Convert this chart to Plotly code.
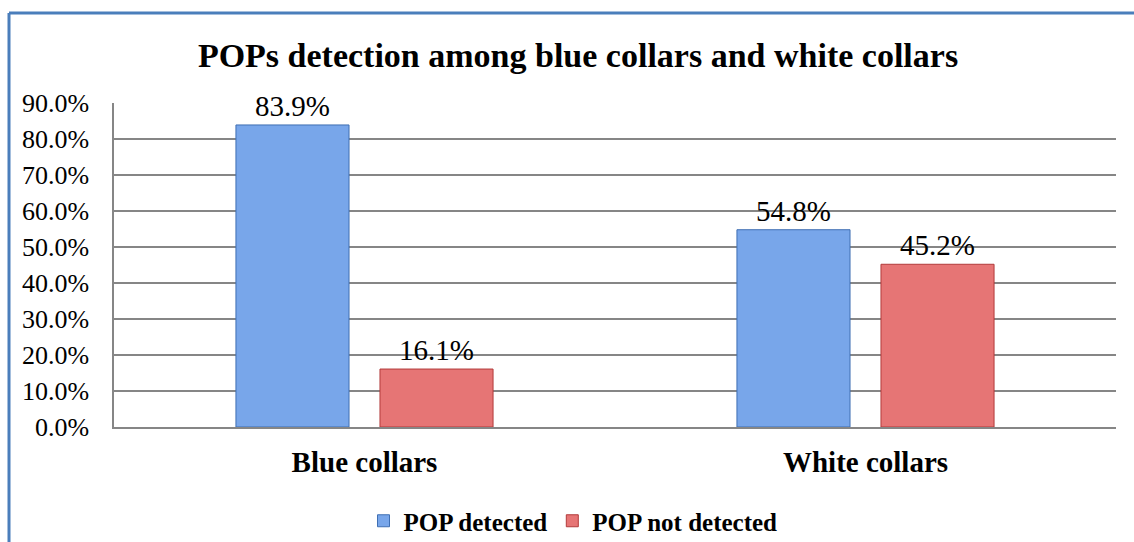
import plotly.graph_objects as go

categories = ["Blue collars", "White collars"]
series_names = ["POP detected", "POP not detected"]
pop_detected = [0.839, 0.548]
pop_not_detected = [0.161, 0.452]
y_ticks = [0.0, 0.1, 0.2, 0.3, 0.4, 0.5, 0.6, 0.7, 0.8, 0.9]
title_text = "POPs detection among blue collars and white collars"

FONT = "Liberation Serif"
W, H = 1134, 542
ML, MR, MT, MB = 114, 18, 13, 5
PH = H - MT - MB  # paper height
PW = W - ML - MR


def py(pix):
    """pixel y (from top) -> paper y"""
    return (H - MB - pix) / PH


def px(pix):
    return (pix - ML) / PW


fig = go.Figure()
fig.add_trace(go.Bar(
    name=f"<b>{series_names[0]}</b>", x=categories, y=pop_detected,
    marker=dict(color="#78a6ea", line=dict(color="#3f6fb3", width=1)),
    text=[f"{v*100:.1f}%" for v in pop_detected], textposition="outside",
    textfont=dict(family=FONT, size=29, color="#000000"), cliponaxis=False,
))
fig.add_trace(go.Bar(
    name=f"<b>{series_names[1]}</b>", x=categories, y=pop_not_detected,
    marker=dict(color="#e67575", line=dict(color="#b23b3b", width=1)),
    text=[f"{v*100:.1f}%" for v in pop_not_detected], textposition="outside",
    textfont=dict(family=FONT, size=29, color="#000000"), cliponaxis=False,
))

fig.update_layout(
    width=W, height=H,
    margin=dict(l=ML, r=MR, t=MT, b=MB, autoexpand=False),
    paper_bgcolor="white", plot_bgcolor="white",
    barmode="group", bargap=0.425, bargroupgap=0.215,
    font=dict(family=FONT, color="#000000"),
    title=dict(text=f"<b>{title_text}</b>", x=578 / W, xanchor="center",
               y=1 - 55 / H, yanchor="middle",
               font=dict(family=FONT, size=34, color="#000000")),
    legend=dict(orientation="h", x=px(573), xanchor="center", y=py(521), yanchor="middle",
                font=dict(family=FONT, size=25, color="#000000"),
                traceorder="normal"),
    showlegend=True,
)
fig.update_yaxes(domain=[py(427), py(103)], range=[0, 0.9], tickvals=y_ticks, tickformat=".1%",
                 showgrid=True, gridcolor="#868686", gridwidth=1.5,
                 showline=True, linecolor="#868686", linewidth=1.5,
                 zeroline=False, ticks="", ticklabelstandoff=18, automargin=False,
                 tickfont=dict(family=FONT, size=26, color="#000000"))
fig.update_xaxes(showline=True, linecolor="#868686", linewidth=1.5, ticks="",
                 ticklabelstandoff=8, automargin=False,
                 tickfont=dict(family=FONT, size=29, color="#000000"),
                 tickvals=categories, ticktext=[f"<b>{c}</b>" for c in categories])

# chart frame (left and top border)
fig.add_shape(type="line", xref="paper", yref="paper",
              x0=px(9), x1=px(9), y0=py(560), y1=py(13),
              line=dict(color="#4a7ebb", width=3))
fig.add_shape(type="line", xref="paper", yref="paper",
              x0=px(9), x1=px(1140), y0=py(13), y1=py(13),
              line=dict(color="#4a7ebb", width=3))

fig.write_html("out.html")
